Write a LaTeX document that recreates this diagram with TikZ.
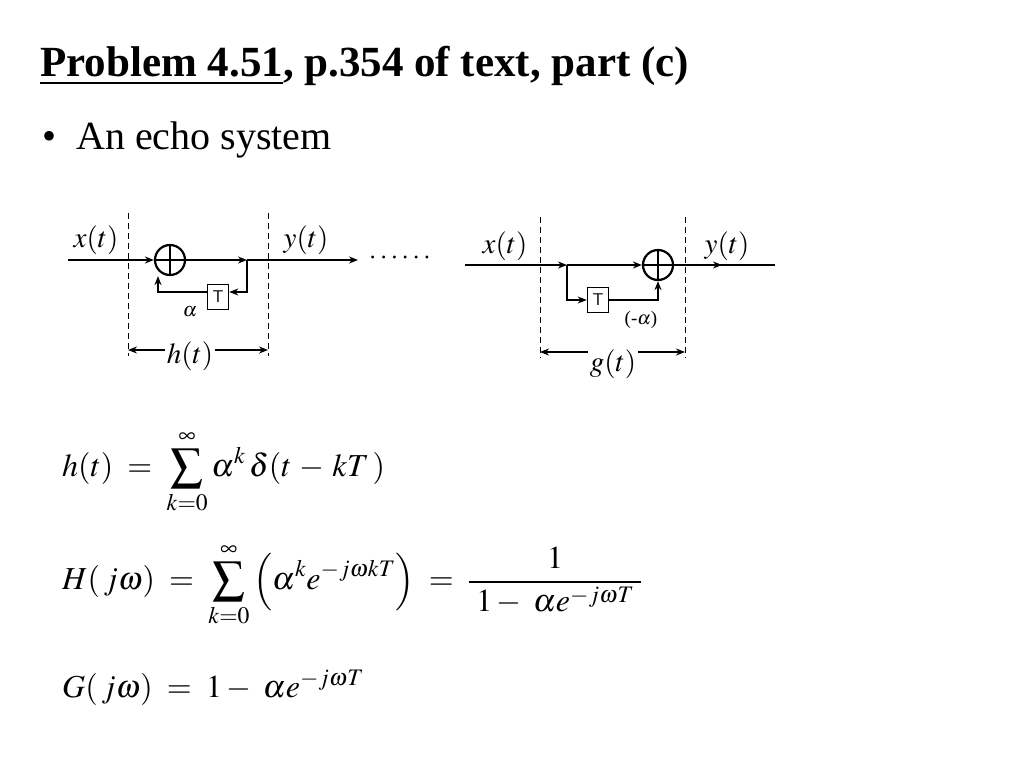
\documentclass[tikz,border=0pt]{standalone}
\usepackage{mathptmx}
\usepackage{fontspec}
\setmainfont{Liberation Serif}
\usetikzlibrary{arrows.meta}
\begin{document}
\begin{tikzpicture}[x=1pt,y=-1pt,
  sig/.style={line width=2.2pt,-{Stealth[length=9pt,width=7pt]}},
  ln/.style={line width=2.2pt},
  dsh/.style={dash pattern=on 6pt off 4pt,line width=0.9pt},
  sumc/.style={circle,draw,line width=2.2pt,minimum size=30pt,inner sep=0pt,
    path picture={\draw[line width=1.6pt] (path picture bounding box.north)--(path picture bounding box.south)
     (path picture bounding box.west)--(path picture bounding box.east);}},
  dly/.style={draw,line width=1.6pt,minimum width=21pt,minimum height=25pt,inner sep=0pt,font=\sffamily\fontsize{17}{17}\selectfont},
  lbl/.style={font=\fontsize{29}{29}\selectfont,inner sep=0pt},
  eq/.style={anchor=west,font=\fontsize{32}{36}\selectfont,inner sep=0pt}]
\useasboundingbox (0,0) rectangle (1024,768);
\node[anchor=west,font=\bfseries\fontsize{43}{43}\selectfont,inner sep=0pt] (title) at (40,66)
  {\underline{Problem 4.51}, p.354 of text, part (c)};
\node[anchor=west,font=\fontsize{40}{40}\selectfont,inner sep=0pt] (bul) at (42,140) {\textbullet\ \ An echo system};
% left diagram
\coordinate (a0) at (68,260);
\node[sumc] (s1) at (170,260) {};
\coordinate (b1) at (247,260);
\coordinate (a1) at (358,260);
\node[dly] (T1) at (218,297) {T};
\coordinate (c1) at (247,292);
\coordinate (d1) at (158,292);
\draw[sig] (a0) -- (s1.west);
\draw[sig] (s1.east) -- (b1);
\draw[sig] (b1) -- (a1);
\draw[sig] (b1) -- (c1) -- (T1.east|-c1);
\draw[sig] (T1.west|-d1) -- (d1) -- (d1|-s1.south);
\node[lbl,font=\fontsize{20}{20}\selectfont] (al1) at (190,312) {$\alpha$};
\draw[dsh] (128,213) -- (128,356);
\draw[dsh] (268,213) -- (268,356);
\node[lbl] (x1) at (96,240) {$x(t)$};
\node[lbl] (y1) at (306,240) {$y(t)$};
\node[lbl,fill=white,inner sep=2pt] (h1) at (190,356) {$h(t)$};
\coordinate (hl) at (128,350);
\coordinate (hr) at (268,350);
\draw[sig] (h1.west|-hl) -- (hl);
\draw[sig] (h1.east|-hr) -- (hr);
\node[lbl,font=\fontsize{28}{28}\selectfont] (dots) at (400,258) {$\cdots\cdots$};
% right diagram
\coordinate (a2) at (465,265);
\coordinate (b2) at (567,265);
\node[sumc] (s2) at (658,265) {};
\coordinate (e2) at (775,265);
\node[dly] (T2) at (598,300) {T};
\draw[sig] (a2) -- (b2);
\draw[sig] (b2) -- (s2.west);
\draw[ln] (s2.east) -- (e2);
\draw[sig] (s2.east) -- (722,265);
\draw[sig] (b2) -- (567,300) -- (T2.west);
\draw[sig] (T2.east) -- (658,300) -- (s2.south);
\node[lbl,font=\fontsize{19}{19}\selectfont] (al2) at (641,320) {(-$\alpha$)};
\draw[dsh] (540,217) -- (540,358);
\draw[dsh] (685,217) -- (685,358);
\node[lbl] (x2) at (505,246) {$x(t)$};
\node[lbl] (y2) at (727,246) {$y(t)$};
\node[lbl,fill=white,inner sep=2pt] (g2) at (613,364) {$g(t)$};
\coordinate (gl) at (540,352);
\coordinate (gr) at (685,352);
\draw[sig] (g2.west|-gl) -- (gl);
\draw[sig] (g2.east|-gr) -- (gr);
% equations
\node[eq] (e1) at (62,472) {$h(t)\;=\;\displaystyle\sum_{k=0}^{\infty}\alpha^{k}\,\delta(t\,-\,kT\,)$};
\node[eq] (e2) at (62,585) {$H(\,j\omega)\;=\;\displaystyle\sum_{k=0}^{\infty}\left(\alpha^{k}e^{-j\omega kT}\right)\;=\;\frac{1}{\;1-\;\alpha e^{-j\omega T}\;}$};
\node[eq] (e3) at (62,688) {$G(\,j\omega)\;=\;1-\;\alpha e^{-j\omega T}$};
\end{tikzpicture}
\end{document}
